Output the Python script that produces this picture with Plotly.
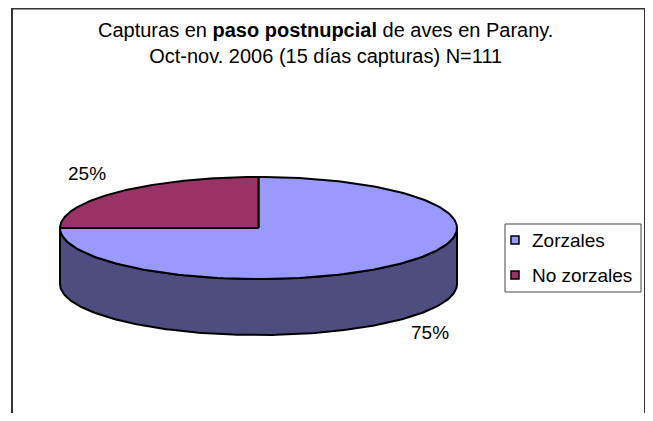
import numpy as np
import plotly.graph_objects as go

# data
categorias = ['Zorzales', 'No zorzales']
porcentajes = [75, 25]
colores = ['#9999FF', '#993366']
colores_lado = ['#4D4D80', '#4D1A33']

# pie geometry, in page pixels
cx, cy = 258.5, 228
rx, ry = 198.5, 51
alto = 56
fuente = 'Liberation Sans, Arial, sans-serif'

def arco(a0, a1, dy=0, n=160):
    t = np.radians(np.linspace(a0, a1, n))
    return cx + rx * np.cos(t), cy - ry * np.sin(t) + dy

fig = go.Figure()

# chart frame (open at the bottom, runs off the page)
fig.add_trace(go.Scatter(x=[12, 12, 645, 645], y=[440, 8.5, 8.5, 440], mode='lines',
                         line=dict(color='#333333', width=2),
                         showlegend=False, hoverinfo='skip'))

# slices start at 12 o'clock and run clockwise
total = sum(porcentajes)
angulos = []
a = 90.0
for p in porcentajes:
    a_fin = a - 360.0 * p / total
    angulos.append((a, a_fin))
    a = a_fin

# side walls: only the front half (-180..0 deg) is visible
for (a0, a1), col in zip(angulos, colores_lado):
    for off in (0, 360, -360):
        s_lo, s_hi = max(a1 + off, -180), min(a0 + off, 0)
        if s_hi <= s_lo:
            continue
        xt, yt = arco(s_hi, s_lo)
        xb, yb = arco(s_lo, s_hi, dy=alto)
        fig.add_trace(go.Scatter(
            x=np.concatenate([xt, xb, xt[:1]]), y=np.concatenate([yt, yb, yt[:1]]),
            fill='toself', fillcolor=col, mode='lines',
            line=dict(color='black', width=2), showlegend=False, hoverinfo='skip'))

# top faces
for nombre, (a0, a1), col in zip(categorias, angulos, colores):
    xs, ys = arco(a0, a1)
    fig.add_trace(go.Scatter(
        x=np.concatenate([[cx], xs, [cx]]), y=np.concatenate([[cy], ys, [cy]]),
        fill='toself', fillcolor=col, mode='lines', name=nombre,
        line=dict(color='black', width=2), showlegend=False, hoverinfo='skip'))

# percentage labels
for p, (a0, a1) in zip(porcentajes, angulos):
    m = np.radians((a0 + a1) / 2)
    lx = cx + 1.22 * rx * np.cos(m)
    ly = cy - 1.5 * ry * np.sin(m) + (0.9 * alto if np.sin(m) < 0 else 0)
    fig.add_annotation(x=lx, y=ly, text=f'{p}%', showarrow=False,
                       font=dict(size=19, color='black'))

# legend box
lx0, ly0, lx1, ly1 = 505, 224, 641, 292
fig.add_trace(go.Scatter(x=[lx0, lx1, lx1, lx0, lx0], y=[ly0, ly0, ly1, ly1, ly0],
                         mode='lines', line=dict(color='#444444', width=1),
                         showlegend=False, hoverinfo='skip'))
for i, (nombre, col) in enumerate(zip(categorias, colores)):
    yc = 240 + 35 * i
    fig.add_shape(type='rect', x0=lx0 + 6, y0=yc - 4, x1=lx0 + 14, y1=yc + 4,
                  fillcolor=col, line=dict(color='black', width=1.5))
    fig.add_annotation(x=lx0 + 25, y=yc, text=nombre, showarrow=False,
                       xanchor='left', font=dict(size=19, color='black'))

# title
fig.add_annotation(x=325, y=17, yanchor='top', showarrow=False, align='center',
                   text='Capturas en <b>paso postnupcial</b> de aves en Parany.<br>'
                        'Oct-nov. 2006 (15 días capturas) N=111',
                   font=dict(size=20, color='black'))

# the page body keeps an 8px margin: the figure fills the rest of the window
# and the axes are set so that data units equal page pixels
fig.update_layout(
    width=645, height=405,
    margin=dict(l=0, r=0, t=0, b=0),
    paper_bgcolor='white', plot_bgcolor='white',
    font=dict(family=fuente, color='black'),
    xaxis=dict(range=[8, 653], visible=False, fixedrange=True),
    yaxis=dict(range=[413, 8], visible=False, fixedrange=True),
    showlegend=False,
)

fig.write_html('out.html')
